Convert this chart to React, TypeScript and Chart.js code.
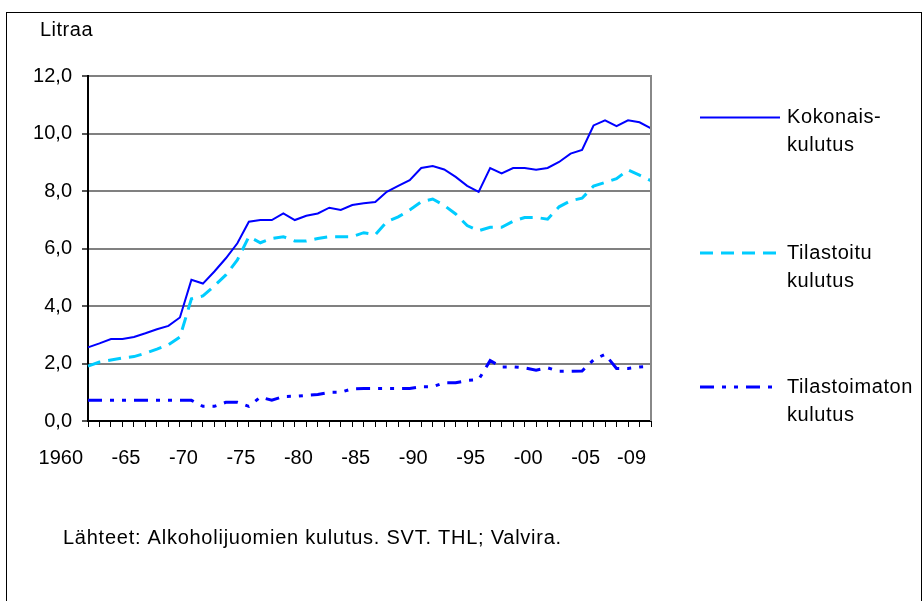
import React, { useEffect, useRef } from 'react';
import { Chart, registerables } from 'chart.js';

Chart.register(...registerables);

// ---- data ----
const years = [
  1960, 1961, 1962, 1963, 1964, 1965, 1966, 1967, 1968, 1969,
  1970, 1971, 1972, 1973, 1974, 1975, 1976, 1977, 1978, 1979,
  1980, 1981, 1982, 1983, 1984, 1985, 1986, 1987, 1988, 1989,
  1990, 1991, 1992, 1993, 1994, 1995, 1996, 1997, 1998, 1999,
  2000, 2001, 2002, 2003, 2004, 2005, 2006, 2007, 2008, 2009,
];

const labeledYears = [1960, 1965, 1970, 1975, 1980, 1985, 1990, 1995, 2000, 2005, 2009];
const xTickLabels = ['1960', '-65', '-70', '-75', '-80', '-85', '-90', '-95', '-00', '-05', '-09'];

const totalConsumption = [
  2.56, 2.7, 2.85, 2.85, 2.92, 3.05, 3.19, 3.31, 3.6, 4.91,
  4.78, 5.2, 5.66, 6.18, 6.93, 6.99, 6.99, 7.22, 6.99, 7.14,
  7.22, 7.42, 7.34, 7.51, 7.57, 7.62, 7.97, 8.18, 8.38, 8.8,
  8.87, 8.75, 8.49, 8.18, 7.97, 8.8, 8.61, 8.8, 8.8, 8.74,
  8.8, 9.01, 9.3, 9.43, 10.28, 10.46, 10.26, 10.46, 10.39, 10.18,
];

const recordedConsumption = [
  1.91, 2.05, 2.12, 2.19, 2.24, 2.36, 2.5, 2.65, 2.92, 4.25,
  4.35, 4.7, 5.08, 5.6, 6.41, 6.2, 6.35, 6.41, 6.26, 6.26,
  6.35, 6.41, 6.41, 6.41, 6.55, 6.48, 6.93, 7.1, 7.34, 7.62,
  7.72, 7.5, 7.2, 6.8, 6.62, 6.74, 6.74, 6.95, 7.08, 7.08,
  7.02, 7.45, 7.66, 7.75, 8.17, 8.3, 8.43, 8.73, 8.55, 8.36,
];

const unrecordedConsumption = [
  0.72, 0.72, 0.72, 0.72, 0.72, 0.72, 0.72, 0.72, 0.72, 0.72,
  0.51, 0.51, 0.65, 0.65, 0.51, 0.83, 0.72, 0.85, 0.86, 0.89,
  0.92, 1.0, 1.0, 1.12, 1.13, 1.13, 1.13, 1.13, 1.13, 1.19,
  1.19, 1.33, 1.33, 1.41, 1.44, 2.1, 1.88, 1.88, 1.85, 1.77,
  1.85, 1.73, 1.73, 1.74, 2.13, 2.32, 1.83, 1.83, 1.88, 1.9,
];

const seriesNames = [
  ['Kokonais-', 'kulutus'],
  ['Tilastoitu', 'kulutus'],
  ['Tilastoimaton', 'kulutus'],
];

const yAxisTitle = 'Litraa';
const sourceNote = 'Lähteet: Alkoholijuomien kulutus. SVT. THL; Valvira.';
const yMin = 0;
const yMax = 12;
const yStep = 2;

const FONT = '"Liberation Sans", Arial, sans-serif';

const legendRowsY = [117.5, 253, 387];

const decorPlugin = {
  id: 'decor',
  beforeDraw(chart: any) {
    const ctx = chart.ctx;
    ctx.save();
    ctx.fillStyle = '#ffffff';
    ctx.fillRect(0, 0, chart.width, chart.height);
    ctx.restore();
  },
  afterDraw(chart: any) {
    const ctx = chart.ctx;
    const { right, top, bottom } = chart.chartArea;
    ctx.save();
    // outer frame
    ctx.strokeStyle = '#000';
    ctx.lineWidth = 1;
    ctx.strokeRect(6.5, 12.5, 915, 700);
    // plot area right border
    ctx.strokeStyle = '#888888';
    ctx.lineWidth = 2;
    ctx.beginPath();
    ctx.moveTo(right, top - 1);
    ctx.lineTo(right, bottom);
    ctx.stroke();

    ctx.fillStyle = '#000';
    ctx.font = `20px ${FONT}`;
    ctx.textBaseline = 'middle';
    ctx.textAlign = 'left';
    (ctx as any).letterSpacing = '0.5px';
    ctx.fillText(yAxisTitle, 40, 30.5);

    // legend
    (ctx as any).letterSpacing = '0.6px';
    chart.data.datasets.forEach((ds: any, i: number) => {
      const y = legendRowsY[i];
      ctx.strokeStyle = ds.borderColor;
      ctx.lineWidth = ds.borderWidth;
      ctx.setLineDash(ds.borderDash || []);
      ctx.beginPath();
      ctx.moveTo(700, y);
      ctx.lineTo(780, y);
      ctx.stroke();
      ctx.setLineDash([]);
      seriesNames[i].forEach((t, j) => {
        ctx.fillText(t, 787, y + j * 28);
      });
    });

    (ctx as any).letterSpacing = '0.75px';
    ctx.fillText(sourceNote, 63, 538);
    ctx.restore();
  },
};

export default function App() {
  const canvasRef = useRef<HTMLCanvasElement | null>(null);

  useEffect(() => {
    if (!canvasRef.current) return;
    const chart = new Chart(canvasRef.current, {
      type: 'line',
      data: {
        labels: years.map(String),
        datasets: [
          {
            label: seriesNames[0].join(' '),
            data: totalConsumption,
            borderColor: '#0000ff',
            borderWidth: 2,
            pointRadius: 0,
            tension: 0,
            fill: false,
          },
          {
            label: seriesNames[1].join(' '),
            data: recordedConsumption,
            borderColor: '#00ccff',
            borderWidth: 3,
            borderDash: [13, 8],
            pointRadius: 0,
            tension: 0,
            fill: false,
          },
          {
            label: seriesNames[2].join(' '),
            data: unrecordedConsumption,
            borderColor: '#0000ff',
            borderWidth: 3,
            borderDash: [14, 8, 4, 8, 4, 8],
            pointRadius: 0,
            tension: 0,
            fill: false,
          },
        ],
      },
      options: {
        responsive: false,
        animation: false,
        devicePixelRatio: 1,
        layout: { padding: { left: 0, right: 272, top: 76, bottom: 0 } },
        plugins: {
          legend: { display: false },
          tooltip: { enabled: false },
          title: { display: false },
        },
        scales: {
          x: {
            type: 'category',
            offset: false,
            grid: {
              drawOnChartArea: false,
              drawTicks: true,
              tickLength: 6,
              tickColor: '#000',
              lineWidth: 1,
            },
            border: { display: true, color: '#000', width: 2 },
            ticks: {
              autoSkip: false,
              maxRotation: 0,
              minRotation: 0,
              align: 'end',
              labelOffset: -5,
              padding: 19,
              color: '#000',
              font: { family: FONT, size: 20 },
              callback: (_v: any, idx: number) => {
                const k = labeledYears.indexOf(years[idx]);
                return k >= 0 ? xTickLabels[k] : '';
              },
            },
            afterFit: (s: any) => {
              s.height = 180;
            },
          },
          y: {
            min: yMin,
            max: yMax,
            grid: {
              color: '#808080',
              lineWidth: 2,
              drawTicks: true,
              tickLength: 6,
              tickColor: '#555',
            },
            border: { display: true, color: '#000', width: 2 },
            ticks: {
              stepSize: yStep,
              padding: 10,
              color: '#000',
              font: { family: FONT, size: 20 },
              callback: (v: any) => Number(v).toFixed(1).replace('.', ','),
            },
            afterFit: (s: any) => {
              s.width = 88;
            },
          },
        },
      },
      plugins: [decorPlugin],
    } as any);
    return () => chart.destroy();
  }, []);

  return (
    <div style={{ position: 'fixed', left: 0, top: 0, width: 923, height: 601, background: '#fff' }}>
      <canvas ref={canvasRef} width={923} height={601} style={{ display: 'block' }} />
    </div>
  );
}
